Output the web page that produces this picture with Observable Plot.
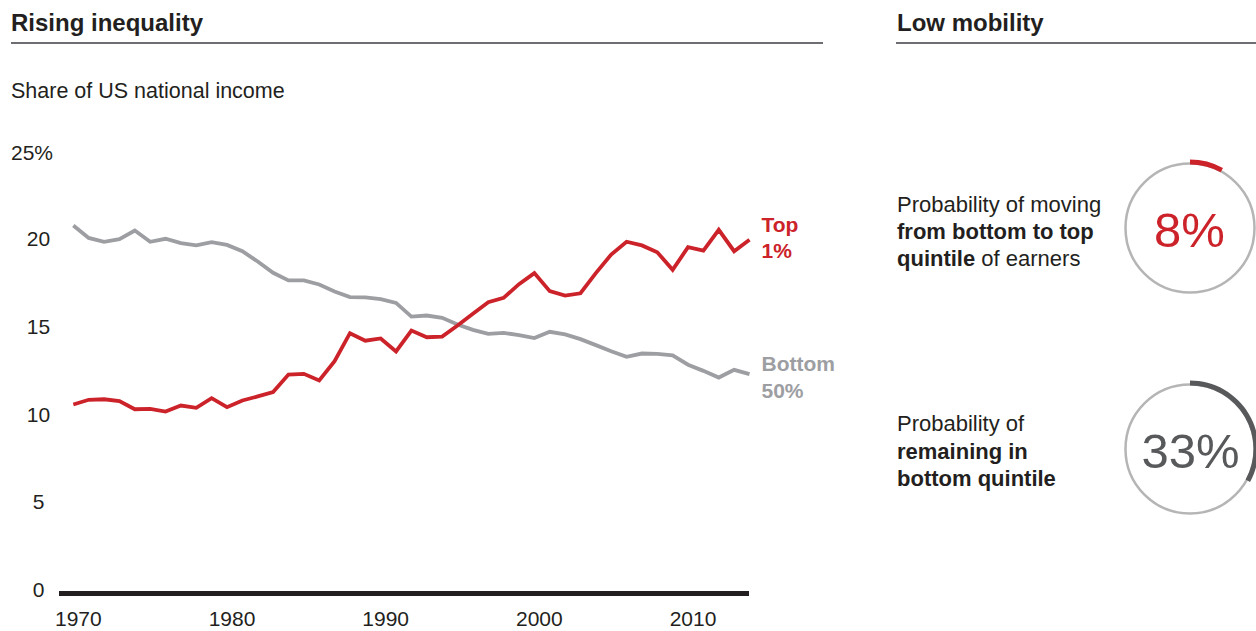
<!DOCTYPE html>
<html>
<head>
<meta charset="utf-8">
<script src="https://cdn.jsdelivr.net/npm/d3@7"></script>
<script src="https://cdn.jsdelivr.net/npm/@observablehq/plot@0.6"></script>
<style>
  body { margin: 0; background: #fff; }
  #page { position: relative; width: 1256px; height: 631px; overflow: hidden;
          font-family: "Liberation Sans", Arial, Helvetica, sans-serif; color: #231f20; }
  .abs { position: absolute; }
  .head { font-weight: bold; font-size: 24px; line-height: 24px; white-space: nowrap; }
  .rule { height: 2px; background: #6d6e71; }
  .sub { font-size: 21.5px; line-height: 21.5px; white-space: nowrap; }
  .desc { font-size: 22px; white-space: nowrap; }
  .desc b { font-weight: bold; }
</style>
</head>
<body>
<div id="page">
  <div class="abs head" style="left:11px; top:11px;">Rising inequality</div>
  <div class="abs rule" style="left:11px; top:41.5px; width:812px;"></div>
  <div class="abs head" style="left:897px; top:11px;">Low mobility</div>
  <div class="abs rule" style="left:896px; top:41.5px; width:360px;"></div>
  <div class="abs sub" style="left:11px; top:80.8px;">Share of US national income</div>

  <div id="chart" class="abs" style="left:0; top:130px;"></div>

  <div class="abs desc" style="left:897px; top:191.2px; line-height:27px;">Probability of moving<br><b>from bottom to top</b><br><b>quintile</b> of earners</div>
  <div class="abs desc" style="left:897px; top:410.3px; line-height:27.5px;">Probability of<br><b>remaining in</b><br><b>bottom quintile</b></div>

  <div id="gauge1" class="abs" style="left:1100px; top:152.7px;"></div>
  <div id="gauge2" class="abs" style="left:1100px; top:373.5px;"></div>
</div>
<script>
// Share of US national income, 1970–2014
const years = [1970, 1971, 1972, 1973, 1974, 1975, 1976, 1977, 1978, 1979,
               1980, 1981, 1982, 1983, 1984, 1985, 1986, 1987, 1988, 1989,
               1990, 1991, 1992, 1993, 1994, 1995, 1996, 1997, 1998, 1999,
               2000, 2001, 2002, 2003, 2004, 2005, 2006, 2007, 2008, 2009,
               2010, 2011, 2012, 2013, 2014];
const top1 = [10.73, 11.0, 11.03, 10.92, 10.46, 10.48, 10.33, 10.67, 10.54, 11.09,
              10.58, 10.96, 11.19, 11.44, 12.44, 12.48, 12.10, 13.20, 14.80, 14.37,
              14.50, 13.76, 14.95, 14.57, 14.61, 15.24, 15.91, 16.57, 16.82, 17.60,
              18.23, 17.20, 16.95, 17.08, 18.23, 19.29, 20.02, 19.81, 19.42, 18.42,
              19.71, 19.52, 20.70, 19.48, 20.13];
const bottom50 = [20.95, 20.24, 20.02, 20.17, 20.66, 20.02, 20.19, 19.94, 19.81, 20.00,
                  19.84, 19.48, 18.89, 18.25, 17.81, 17.81, 17.58, 17.18, 16.86, 16.84,
                  16.74, 16.53, 15.75, 15.81, 15.68, 15.30, 14.99, 14.76, 14.82, 14.69,
                  14.52, 14.88, 14.73, 14.46, 14.12, 13.77, 13.45, 13.64, 13.62, 13.53,
                  13.00, 12.65, 12.27, 12.71, 12.46];
const seriesLabels = ["Top\n1%", "Bottom\n50%"];
const xTicks = [1970, 1980, 1990, 2000, 2010];
const yTicks = [0, 5, 10, 15, 20];
const yTopTick = [25];

// Mobility probabilities (percent)
const mobility = [8, 33];

const red = "#cc2229";
const grey = "#9d9ea2";
const ink = "#231f20";

const rows = years.map((year, i) => ({year, top1: top1[i], bottom50: bottom50[i]}));
const last = rows.slice(-1);
const lineStyle = {strokeWidth: 3.8, strokeLinejoin: "miter", strokeMiterlimit: 4, strokeLinecap: "butt"};
const labelStyle = {dx: 12, textAnchor: "start", lineAnchor: "middle", lineHeight: 1.27, fontWeight: "bold", fontSize: 21};

const chart = Plot.plot({
  width: 830,
  height: 501,
  marginTop: 24,
  marginBottom: 39,
  marginLeft: 59,
  marginRight: 81,
  x: {domain: [1969.1, 2014]},
  y: {domain: [0, 25]},
  style: {fontFamily: "'Liberation Sans', Arial, sans-serif", fontSize: "21px", color: ink, background: "transparent", overflow: "visible"},
  marks: [
    Plot.ruleY([0], {stroke: ink, strokeWidth: 5, dy: 1}),
    Plot.line(rows, {x: "year", y: "bottom50", stroke: grey, ...lineStyle}),
    Plot.line(rows, {x: "year", y: "top1", stroke: red, ...lineStyle}),
    Plot.text(last, {x: "year", y: "top1", text: () => seriesLabels[0], fill: red, dy: -3.5, ...labelStyle}),
    Plot.text(last, {x: "year", y: "bottom50", text: () => seriesLabels[1], fill: grey, dy: 1.5, ...labelStyle}),
    Plot.axisY(yTicks, {tickSize: 0, tickPadding: 21, textAnchor: "middle", dy: -2.5, fontSize: 21, label: null}),
    Plot.axisY(yTopTick, {tickSize: 0, tickPadding: 27.5, textAnchor: "middle", dy: -1, fontSize: 21, tickFormat: d => d + "%", label: null}),
    Plot.axisX(xTicks, {tickSize: 0, tickPadding: 19, dx: 5, fontSize: 21, tickFormat: "d", label: null})
  ]
});
document.getElementById("chart").append(chart);

// Ring gauge: thin grey circle with a heavier arc covering the share
function gauge(value, color, textDx) {
  const turn = d3.scaleLinear([0, 100], [0, 2 * Math.PI]);
  const arc = d3.arc();
  const ring = (index, scales, values, dims) => {
    const cx = dims.marginLeft + (dims.width - dims.marginLeft - dims.marginRight) / 2;
    const cy = dims.marginTop + (dims.height - dims.marginTop - dims.marginBottom) / 2;
    const g = d3.create("svg:g").attr("transform", `translate(${cx},${cy})`);
    g.append("circle").attr("r", 64.5).attr("fill", "none").attr("stroke", "#b5b5b5").attr("stroke-width", 2.5);
    g.append("path").attr("fill", color)
      .attr("d", arc({innerRadius: 63.5, outerRadius: 68.5, startAngle: 0, endAngle: turn(value)}));
    return g.node();
  };
  return Plot.plot({
    width: 156,
    height: 150,
    marginLeft: 24,
    marginRight: 0,
    marginTop: 0,
    marginBottom: 0,
    style: {fontFamily: "'Liberation Sans', Arial, sans-serif", background: "transparent", overflow: "visible"},
    marks: [
      ring,
      Plot.text([value], {frameAnchor: "middle", text: d => d + "%", fill: color, fontSize: 49, dy: 2.5, dx: textDx})
    ]
  });
}
document.getElementById("gauge1").append(gauge(mobility[0], red, -1));
document.getElementById("gauge2").append(gauge(mobility[1], "#58595b", 0));
</script>
</body>
</html>
